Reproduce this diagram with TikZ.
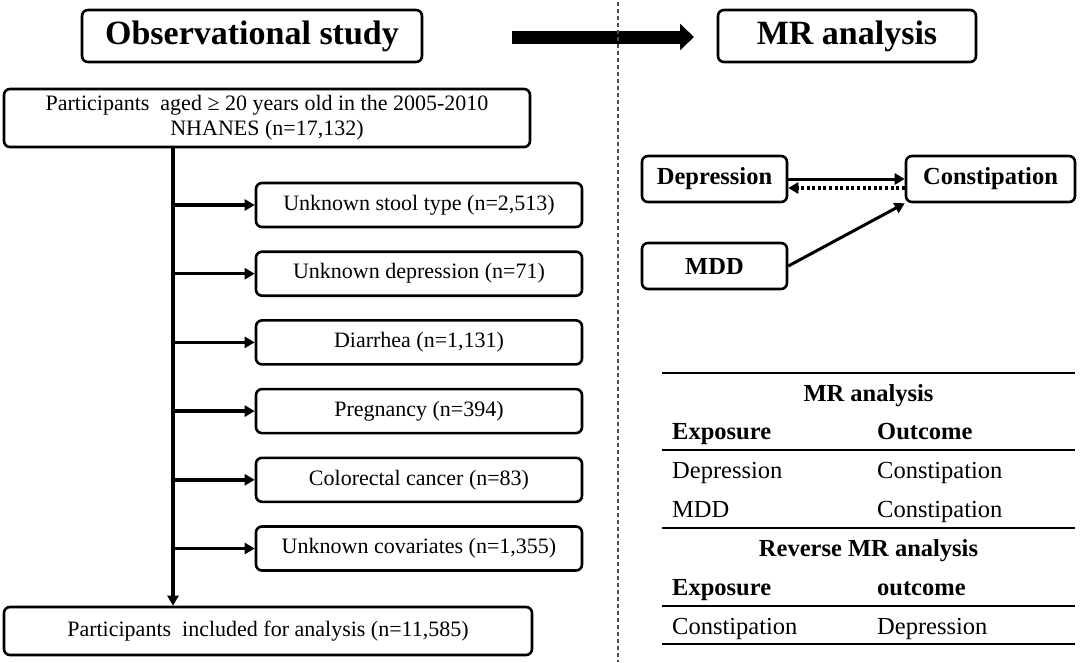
\documentclass[tikz,border=0pt]{standalone}
\usepackage{fontspec}
\setmainfont{Liberation Serif}
\usetikzlibrary{arrows.meta}
\begin{document}
\begin{tikzpicture}[x=1pt,y=-1pt,
  box/.style={draw, rounded corners=6pt, line width=2.6pt, inner sep=0pt, align=center},
  titlebox/.style={box, minimum height=52pt, font=\fontsize{34}{38}\selectfont\bfseries},
  subbox/.style={box, minimum width=326pt, minimum height=44pt, font=\fontsize{22}{25}\selectfont},
  mrbox/.style={box, minimum height=46pt, font=\fontsize{24.5}{28}\selectfont\bfseries},
  conn/.style={line width=3.4pt, -{Triangle[length=10pt,width=11pt]}},
  tcell/.style={anchor=base west, inner sep=0pt, font=\fontsize{24.5}{28}\selectfont},
  thead/.style={anchor=base west, inner sep=0pt, font=\fontsize{24.5}{28}\selectfont\bfseries},
  tmid/.style={anchor=base, inner sep=0pt, font=\fontsize{24.5}{28}\selectfont\bfseries},
  rule/.style={line width=1.8pt}
]
\useasboundingbox (0,0) rectangle (1080,662);

% titles
\node[titlebox, minimum width=340pt] (obs) at (252,36) {Observational study};
\node[titlebox, minimum width=258pt] (mr) at (847,36) {MR analysis};
\coordinate (arrS) at (512,37);
\coordinate (arrE) at (694,37);
\draw[line width=13pt, -{Triangle[length=14pt,width=26pt]}] (arrS) -- (arrE);

% divider
\coordinate (divT) at (618,2);
\coordinate (divB) at (618,662);
\draw[line width=1.4pt, black!70, dash pattern=on 4pt off 3pt] (divT) -- (divB);

% left flow
\node[box, minimum width=526pt, minimum height=58pt, font=\fontsize{22}{25}\selectfont] (top) at (267,118)
  {Participants\ \ aged ≥ 20 years old in the 2005-2010\\NHANES (n=17,132)};
\node[subbox] (b1) at (419,205) {Unknown stool type (n=2,513)};
\node[subbox] (b2) at (419,273.7) {Unknown depression (n=71)};
\node[subbox] (b3) at (419,342.4) {Diarrhea (n=1,131)};
\node[subbox] (b4) at (419,411.1) {Pregnancy (n=394)};
\node[subbox] (b5) at (419,479.8) {Colorectal cancer (n=83)};
\node[subbox] (b6) at (419,548.5) {Unknown covariates (n=1,355)};
\node[box, minimum width=528pt, minimum height=48pt, font=\fontsize{22}{25}\selectfont] (fin) at (268,631)
  {Participants\ \ included for analysis (n=11,585)};

\coordinate (trunk) at (173,147);
\draw[conn] (top.south -| trunk) -- (fin.north -| trunk);
\foreach \b in {b1,b2,b3,b4,b5,b6}
  \draw[conn] (trunk |- \b.west) -- (\b.west);

% MR diagram
\node[mrbox, minimum width=145pt] (dep) at (714.5,179) {Depression};
\node[mrbox, minimum width=169pt] (con) at (990.5,179) {Constipation};
\node[mrbox, minimum width=145pt] (mdd) at (714.5,266) {MDD};
\draw[line width=3pt, -{Triangle[length=10pt,width=11pt]}] (dep.east) -- (con.west);
\draw[line width=3.4pt, dash pattern=on 3pt off 2.6pt, -{Triangle[length=10pt,width=11pt]}]
  ([yshift=-9pt]con.west) -- ([yshift=-9pt]dep.east);
\draw[line width=3pt, -{Triangle[length=10pt,width=11pt]}] (mdd.east) -- (con.south west);

% table
\draw[rule] (662,373) -- (1075,373);
\node[tmid] (h1) at (868.5,401) {MR analysis};
\node[thead] (e1) at (672,439) {Exposure};
\node[thead] (o1) at (877,439) {Outcome};
\draw[rule] (662,450) -- (1075,450);
\node[tcell] (r1a) at (672,478) {Depression};
\node[tcell] (r1b) at (877,478) {Constipation};
\node[tcell] (r2a) at (672,517) {MDD};
\node[tcell] (r2b) at (877,517) {Constipation};
\draw[rule] (662,528) -- (1075,528);
\node[tmid] (h2) at (868.5,556) {Reverse MR analysis};
\node[thead] (e2) at (672,595) {Exposure};
\node[thead] (o2) at (877,595) {outcome};
\draw[rule] (662,606) -- (1075,606);
\node[tcell] (r3a) at (672,634) {Constipation};
\node[tcell] (r3b) at (877,634) {Depression};
\draw[rule] (662,644) -- (1075,644);
\end{tikzpicture}
\end{document}
